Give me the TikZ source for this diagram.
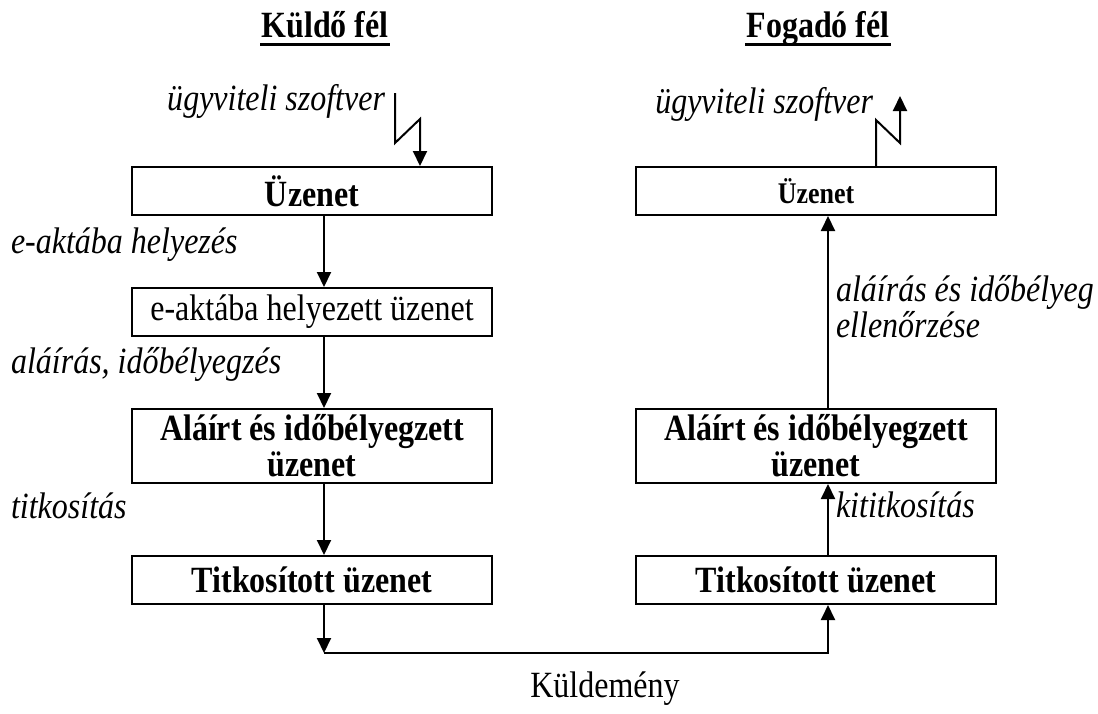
\documentclass[tikz,border=0pt]{standalone}
\usepackage{fontspec}
\setmainfont{Liberation Serif}[FakeStretch=0.865]
\usetikzlibrary{arrows.meta}

\newcommand{\alapmeret}{\fontsize{18.5}{18}\selectfont}

\tikzset{
  uzbox/.style={draw, line width=1pt, minimum width=180pt, minimum height=24pt,
    inner sep=2pt, align=center, font=\alapmeret\bfseries},
  cimke/.style={font=\alapmeret\itshape, inner sep=0pt, anchor=base west},
  cim/.style={font=\alapmeret\bfseries, inner sep=0pt, anchor=base},
}

\begin{document}
\begin{tikzpicture}[x=0.5pt, y=-0.5pt, line width=1pt,
    >={Triangle[width=7pt,length=7.5pt]}]
    \useasboundingbox (0,0) rectangle (1098,713);

    % cimek
    \node[cim] (kuldo) at (325,37) {Küldő fél};
    \node[cim] (fogado) at (818,37) {Fogadó fél};
    \draw[line width=1.5pt] ([yshift=-3.5pt]kuldo.base west) -- ([yshift=-3.5pt]kuldo.base east);
    \draw[line width=1.5pt] ([yshift=-3.5pt]fogado.base west) -- ([yshift=-3.5pt]fogado.base east);

    % kuldo oldal
    \node[uzbox] (kU) at (312,191) {Üzenet};
    \node[uzbox, font=\alapmeret] (kE) at (312,312) {e-aktába helyezett üzenet};
    \node[uzbox, minimum height=37pt, inner ysep=0.5pt] (kA) at (312,446) {Aláírt és időbélyegzett\\üzenet};
    \node[uzbox] (kT) at (312,580) {Titkosított üzenet};

    \draw[->] ([xshift=6pt]kU.south) -- ([xshift=6pt]kE.north);
    \draw[->] ([xshift=6pt]kE.south) -- ([xshift=6pt]kA.north);
    \draw[->] ([xshift=6pt]kA.south) -- ([xshift=6pt]kT.north);

    % fogado oldal
    \node[uzbox, font=\fontsize{15}{17}\selectfont\bfseries] (fU) at (816,191) {Üzenet};
    \node[uzbox, minimum height=37pt, inner ysep=0.5pt] (fA) at (816,446) {Aláírt és időbélyegzett\\üzenet};
    \node[uzbox] (fT) at (816,580) {Titkosított üzenet};

    \draw[->] ([xshift=6pt]fT.north) -- ([xshift=6pt]fA.south);
    \draw[->] ([xshift=6pt]fA.north) -- ([xshift=6pt]fU.south);

    % kuldemeny
    \draw[->] ([xshift=6pt]kT.south) -- ++(0,-24pt) coordinate (alj);
    \draw[->] (alj) -| ([xshift=6pt]fT.south);
    \node[font=\alapmeret, anchor=base] (kuldemeny) at (605,697) {Küldemény};

    % villam nyilak (ugyviteli szoftver)
    \coordinate (kBe) at (395,93);
    \draw[->] (kBe) -- (395,143) -- (420,119) -- ([xshift=54pt]kU.north);
    \coordinate (fKi) at (900,96);
    \draw[->] ([xshift=30pt]fU.north) -- (876,120) -- (900,143) -- (fKi);

    % feliratok
    \node[cimke, anchor=base east] (kSzoftver) at (386,110) {ügyviteli szoftver};
    \node[cimke, anchor=base east] (fSzoftver) at (874,113) {ügyviteli szoftver};
    \node[cimke] (lE) at (10,253) {e-aktába helyezés};
    \node[cimke] (lA) at (10,373) {aláírás, időbélyegzés};
    \node[cimke] (lT) at (10,518) {titkosítás};
    \node[cimke, anchor=north west, align=left] (lEll) at (835,274) {aláírás és időbélyeg\\ellenőrzése};
    \node[cimke] (lKi) at (835,517) {kititkosítás};
\end{tikzpicture}
\end{document}
